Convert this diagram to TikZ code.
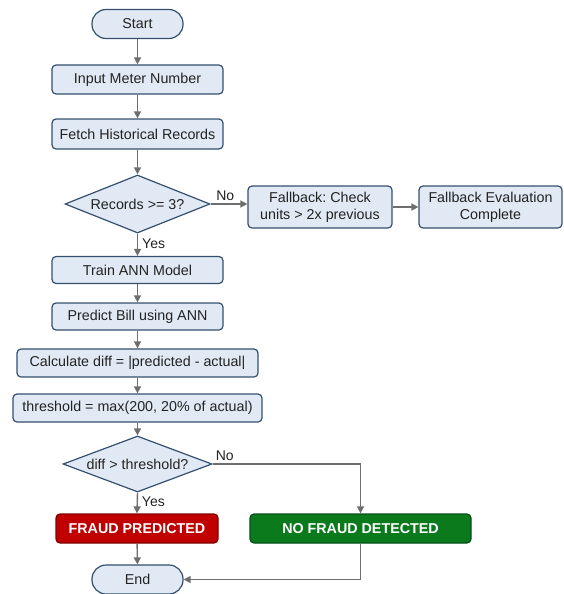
\documentclass[tikz,border=0pt]{standalone}
\usepackage{fontspec}
\setmainfont{Liberation Sans}
\frenchspacing
\usetikzlibrary{shapes.geometric,arrows.meta}
\definecolor{boxfill}{HTML}{E1EAF4}
\definecolor{boxline}{HTML}{34506E}
\definecolor{arrowcol}{HTML}{6E6E6E}
\definecolor{txtcol}{HTML}{222222}
\definecolor{redfill}{HTML}{C00000}
\definecolor{redline}{HTML}{800000}
\definecolor{greenfill}{HTML}{0A7A1C}
\definecolor{greenline}{HTML}{05501A}
\tikzset{
  base/.style={font=\fontsize{14.3}{17}\selectfont, text=txtcol, inner sep=0pt, line width=1.2pt},
  procbox/.style={base, rectangle, rounded corners=4pt, draw=boxline, fill=boxfill, align=center},
  termbox/.style={base, rectangle, rounded corners=14pt, draw=boxline, fill=boxfill, minimum width=91pt, minimum height=29pt},
  decbox/.style={base, diamond, aspect=2.5, draw=boxline, fill=boxfill},
  redbox/.style={base, rectangle, rounded corners=4pt, draw=redline, fill=redfill, text=white, font=\fontsize{14.3}{17}\selectfont\bfseries},
  greenbox/.style={base, rectangle, rounded corners=4pt, draw=greenline, fill=greenfill, text=white, font=\fontsize{14.3}{17}\selectfont\bfseries},
  flow/.style={draw=arrowcol, line width=1.4pt, -{Triangle[length=7pt,width=7pt]}},
  lbl/.style={font=\fontsize{14}{16}\selectfont, text=txtcol, inner sep=0pt}
}
\begin{document}
\begin{tikzpicture}[x=1pt,y=-1pt]
\useasboundingbox (0,0) rectangle (563,594);
\node[termbox] (start) at (137.5,24) {Start};
\node[procbox, minimum width=171pt, minimum height=29pt] (input) at (137.5,79.5) {Input Meter Number};
\node[procbox, minimum width=171pt, minimum height=30pt] (fetch) at (137.5,134) {Fetch Historical Records};
\node[decbox, minimum width=145pt, minimum height=58pt] (dec1) at (137.5,204) {Records >= 3?};
\node[procbox, minimum width=144pt, minimum height=42pt] (fb) at (320,207) {Fallback: Check\\units > 2x previous};
\node[procbox, minimum width=143pt, minimum height=42pt] (fbe) at (490.5,207) {Fallback Evaluation\\Complete};
\node[procbox, minimum width=171pt, minimum height=27pt] (train) at (137.5,270) {Train ANN Model};
\node[procbox, minimum width=171pt, minimum height=27pt] (predict) at (137.5,316.5) {Predict Bill using ANN};
\node[procbox, minimum width=241pt, minimum height=28pt] (calc) at (137.5,363) {Calculate diff = |predicted - actual|};
\node[procbox, minimum width=249pt, minimum height=28pt] (thr) at (137.5,408) {threshold = max(200, 20\% of actual)};
\node[decbox, minimum width=149pt, minimum height=56pt] (dec2) at (137.5,464) {diff > threshold?};
\node[redbox, minimum width=162pt, minimum height=29pt] (fraud) at (137,528.5) {FRAUD PREDICTED};
\node[greenbox, minimum width=221pt, minimum height=29pt] (nofraud) at (360.5,528.5) {NO FRAUD DETECTED};
\node[termbox] (end) at (137.5,579.5) {End};

\draw[flow] (start) -- (input);
\draw[flow] (input) -- (fetch);
\draw[flow] (fetch) -- (dec1);
\draw[flow] (dec1.south) -- node[lbl, anchor=west, xshift=4pt, pos=0.45] (yes1) {Yes} (train.north);
\draw[flow] (dec1.east) -- node[lbl, anchor=south, yshift=3pt, pos=0.4] (no1) {No} (dec1.east -| fb.west);
\draw[flow] (fb) -- (fbe);
\draw[flow] (train) -- (predict);
\draw[flow] (predict) -- (calc);
\draw[flow] (calc) -- (thr);
\draw[flow] (thr) -- (dec2);
\draw[flow] (dec2.south) -- node[lbl, anchor=west, xshift=4pt, pos=0.45] (yes2) {Yes} (fraud.north);
\draw[flow] (dec2.east) -| (nofraud.north);
\node[lbl, anchor=south west] (no2) at ([xshift=3pt,yshift=3pt]dec2.east) {No};
\draw[flow] (fraud) -- (end);
\draw[flow] (nofraud.south) |- (end.east);
\end{tikzpicture}
\end{document}
